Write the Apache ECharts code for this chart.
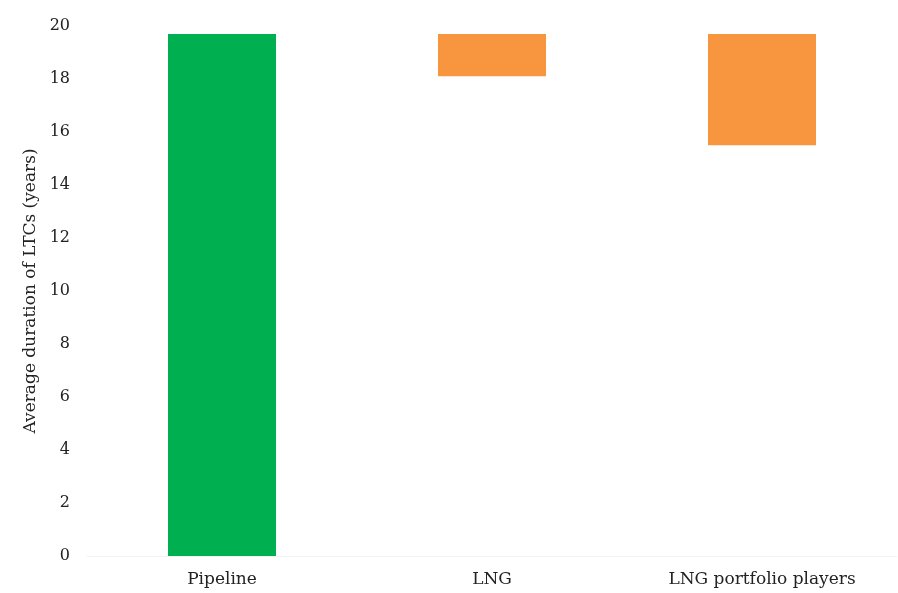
<!DOCTYPE html>
<html>
<head>
<meta charset="utf-8">
<script src="https://cdn.jsdelivr.net/npm/echarts@6/dist/echarts.min.js"></script>
<style>html,body{margin:0;padding:0;background:#fff;}#c{width:898px;height:593px;}</style>
</head>
<body>
<div id="c"></div>
<script>
var categories = ['Pipeline', 'LNG', 'LNG portfolio players'];
var barBottom = [0, 18.1, 15.5];
var barTop = [19.7, 19.7, 19.7];
var barColors = ['#00B050', '#F7963F', '#F7963F'];
var yTicks = [0, 2, 4, 6, 8, 10, 12, 14, 16, 18, 20];

var chart = echarts.init(document.getElementById('c'), null, {renderer: 'canvas'});
var font = '"DejaVu Serif", "Liberation Serif", serif';
chart.setOption({
  animation: false,
  backgroundColor: '#ffffff',
  grid: {left: 87, right: 1, top: 26, bottom: 37, containLabel: false},
  xAxis: {
    type: 'category',
    data: categories,
    axisLine: {show: true, lineStyle: {color: '#f2f2f2'}},
    axisTick: {show: false},
    axisLabel: {color: '#222', fontFamily: font, fontSize: 17, margin: 15}
  },
  yAxis: {
    type: 'value',
    min: yTicks[0],
    max: yTicks[yTicks.length - 1],
    interval: 2,
    name: 'Average duration of LTCs (years)',
    nameLocation: 'middle',
    nameGap: 46,
    nameTextStyle: {color: '#222', fontFamily: font, fontSize: 17},
    axisLine: {show: false},
    axisTick: {show: false},
    splitLine: {show: false},
    axisLabel: {color: '#222', fontFamily: font, fontSize: 16, margin: 17}
  },
  series: [
    {
      type: 'bar',
      stack: 'w',
      barWidth: '40%',
      itemStyle: {color: 'transparent'},
      data: barBottom
    },
    {
      type: 'bar',
      stack: 'w',
      barWidth: '40%',
      data: barTop.map(function (t, i) {
        return {value: +(t - barBottom[i]).toFixed(2), itemStyle: {color: barColors[i]}};
      })
    }
  ]
});
</script>
</body>
</html>
